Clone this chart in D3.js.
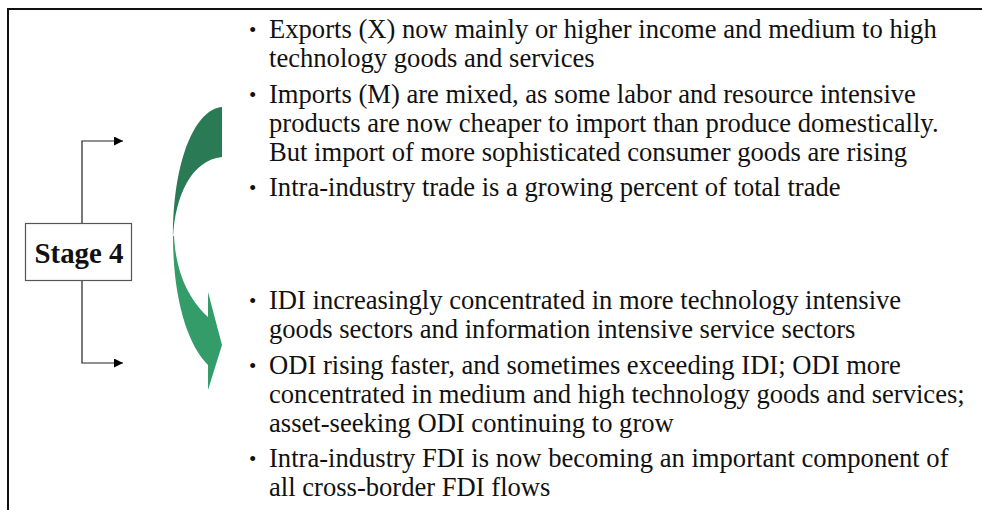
<!DOCTYPE html>
<html>
<head>
<meta charset="utf-8">
<script src="https://cdn.jsdelivr.net/npm/d3@7"></script>
<style>
  html, body { margin: 0; padding: 0; background: #fff; }
  svg { display: block; }
</style>
</head>
<body>
<script>
// ---- content ----
const stageLabel = "Stage 4";
const tradeBullets = [
  ["Exports (X) now mainly or higher income and medium to high",
   "technology goods and services"],
  ["Imports (M) are mixed, as some labor and resource intensive",
   "products are now cheaper to import than produce domestically.",
   "But import of more sophisticated consumer goods are rising"],
  ["Intra-industry trade is a growing percent of total trade"]
];
const fdiBullets = [
  ["IDI increasingly concentrated in more technology intensive",
   "goods sectors and information intensive service sectors"],
  ["ODI rising faster, and sometimes exceeding IDI; ODI more",
   "concentrated in medium and high technology goods and services;",
   "asset-seeking ODI continuing to grow"],
  ["Intra-industry FDI is now becoming an important component of",
   "all cross-border FDI flows"]
];
const arrowColors = ["#2a7a55", "#349c68"];

// ---- drawing ----
const W = 982, H = 510;
const svg = d3.select("body").append("svg").attr("width", W).attr("height", H);
const serif = "'Liberation Serif', 'Times New Roman', serif";

// frame
svg.append("line").attr("x1", 7).attr("x2", W).attr("y1", 9).attr("y2", 9)
  .attr("stroke", "#111").attr("stroke-width", 2);
svg.append("line").attr("x1", 8).attr("x2", 8).attr("y1", 8).attr("y2", H)
  .attr("stroke", "#111").attr("stroke-width", 2);

// arrow marker
svg.append("defs").append("marker")
  .attr("id", "tri").attr("viewBox", "0 0 10 10")
  .attr("refX", 10).attr("refY", 5)
  .attr("markerUnits", "userSpaceOnUse")
  .attr("markerWidth", 11).attr("markerHeight", 9)
  .attr("orient", "auto")
  .append("path").attr("d", "M0,0 L10,5 L0,10 Z").attr("fill", "#000");

// connectors
const connectors = [
  [[82, 223], [82, 141], [123, 141]],
  [[82, 281], [82, 363], [123, 363]]
];
const lineGen = d3.line();
svg.selectAll("path.conn").data(connectors).join("path")
  .attr("class", "conn")
  .attr("d", lineGen)
  .attr("fill", "none").attr("stroke", "#222").attr("stroke-width", 1.2)
  .attr("marker-end", "url(#tri)");

// stage box
svg.append("rect").attr("x", 25.5).attr("y", 223.5).attr("width", 106).attr("height", 57)
  .attr("fill", "#fff").attr("stroke", "#555").attr("stroke-width", 1.2);
const st = svg.append("text").attr("x", 79).attr("y", 263)
  .attr("text-anchor", "middle")
  .attr("font-family", serif).attr("font-weight", "bold")
  .attr("font-size", 27).attr("fill", "#111").text(stageLabel);
{
  const w = st.node().getComputedTextLength();
  st.attr("font-size", 27 * 89 / w);
}

// curved arrow
const upper = d3.path();
upper.moveTo(222, 107);
upper.bezierCurveTo(196, 109, 173, 158, 173, 238);
upper.bezierCurveTo(175, 195, 192, 160, 222, 157);
upper.closePath();
const lower = d3.path();
lower.moveTo(173, 236);
lower.bezierCurveTo(173, 300, 188, 345, 208, 365);
lower.lineTo(208, 390);
lower.lineTo(222, 345);
lower.lineTo(208, 292);
lower.lineTo(208, 317);
lower.bezierCurveTo(190, 300, 176, 275, 174, 236);
lower.closePath();
svg.selectAll("path.arrow").data([lower.toString(), upper.toString()]).join("path")
  .attr("class", "arrow")
  .attr("d", d => d)
  .attr("fill", (d, i) => arrowColors[1 - i]);

// bullet text
const textX = 269, bulletX = 249;
let fontSize = 25;
function drawBlock(bullets, startY) {
  let y = startY;
  const g = svg.append("g");
  bullets.forEach(lines => {
    g.append("text").attr("x", bulletX).attr("y", y - 1)
      .attr("font-family", serif).attr("font-size", 21).attr("fill", "#111").text("•");
    lines.forEach(l => {
      g.append("text").attr("class", "body").attr("x", textX).attr("y", y)
        .attr("font-family", serif).attr("fill", "#111").text(l);
      y += 29;
    });
    y += 6.5;
  });
  return g;
}
drawBlock(tradeBullets, 38);
drawBlock(fdiBullets, 309);
// fit font size to first line width (~668px)
const probe = svg.append("text").attr("font-family", serif).attr("font-size", 25).text(tradeBullets[0][0]);
fontSize = 25 * 668 / probe.node().getComputedTextLength();
probe.remove();
svg.selectAll("text.body").attr("font-size", fontSize);
</script>
</body>
</html>
